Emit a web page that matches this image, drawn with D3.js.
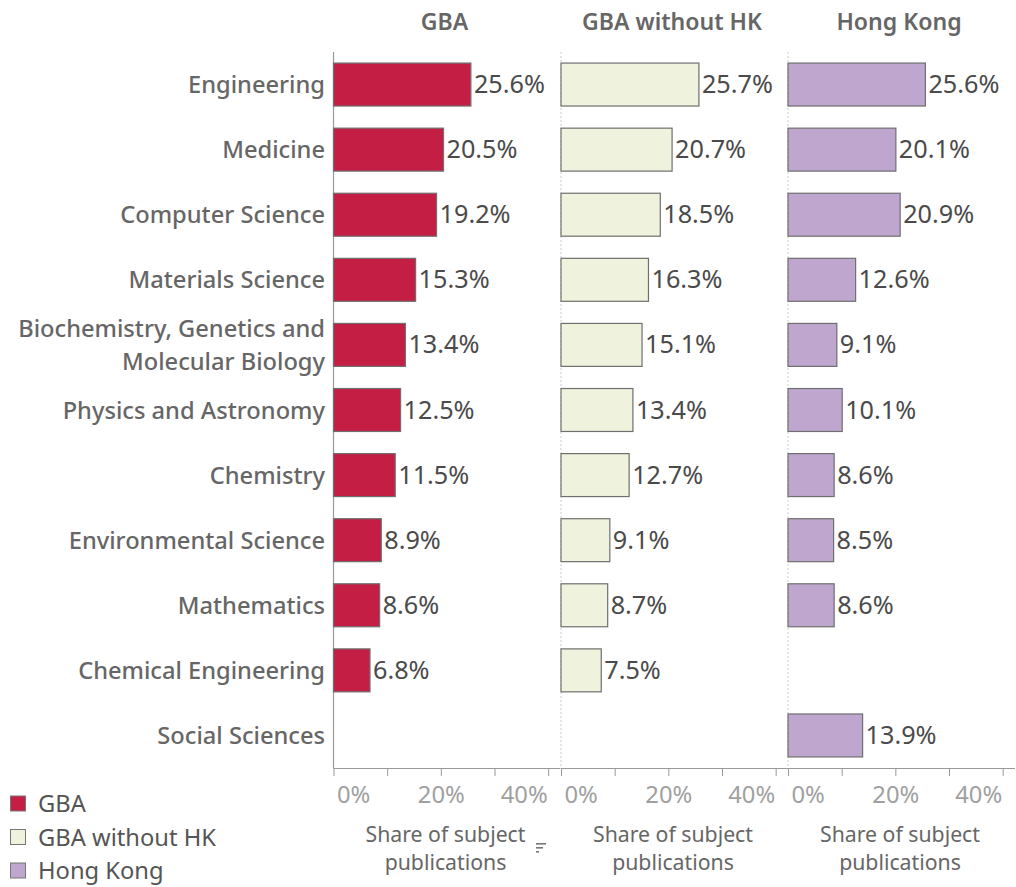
<!DOCTYPE html>
<html><head><meta charset="utf-8">
<script src="https://cdn.jsdelivr.net/npm/d3@7"></script>
<style>
body{margin:0;background:#fff;}
svg text{font-family:"Noto Sans","Open Sans",sans-serif;}
</style></head>
<body><svg id="chart" width="1016" height="887"></svg>
<script>
const categories = ["Engineering","Medicine","Computer Science","Materials Science","Biochemistry, Genetics and\nMolecular Biology","Physics and Astronomy","Chemistry","Environmental Science","Mathematics","Chemical Engineering","Social Sciences"];
const seriesNames = ["GBA","GBA without HK","Hong Kong"];
const gbaValues = [25.6,20.5,19.2,15.3,13.4,12.5,11.5,8.9,8.6,6.8,null];
const gbaNoHKValues = [25.7,20.7,18.5,16.3,15.1,13.4,12.7,9.1,8.7,7.5,null];
const hkValues = [25.6,20.1,20.9,12.6,9.1,10.1,8.6,8.5,8.6,null,13.9];
const seriesColors = ["#C41E45","#EFF2DC","#BEA6CF"];
const tickValues = [0,10,20,30,40];
const tickLabels = ["0%","","20%","","40%"];
const axisTitle = ["Share of subject","publications"];

const series = [gbaValues, gbaNoHKValues, hkValues];
const svg = d3.select("#chart");

function fit(txt, target, weight) {
  const t = svg.append("text").attr("font-size", 100).attr("font-weight", weight).text(txt);
  const w = t.node().getComputedTextLength();
  t.remove();
  return 100 * target / w;
}
const catFs = fit("Biochemistry, Genetics and", 307, 500);
const valFs = fit("25.6%", 71, 400);
const tickFs = fit("20%", 47, 400);
const headFs = fit("GBA without HK", 180, 600);
const titleFs = fit("Share of subject", 160, 400);
const legFs = fit("GBA without HK", 178, 400);

const panelX0 = [333.5, 561, 788];
const panelW = 227;
const plotTop = 52, plotBottom = 768;
const y = d3.scaleBand().domain(categories).range([plotTop, plotBottom]).paddingInner(0.34).paddingOuter(0.17);
const labelColor = "#666", valColor = "#4a4a4a";

categories.forEach(c => {
  const lines = c.split("\n");
  const cy = y(c) + y.bandwidth()/2;
  const t = svg.append("text").attr("x", 325).attr("text-anchor","end")
    .attr("font-size", catFs).attr("font-weight", 500).attr("fill", labelColor);
  lines.forEach((ln,i) => {
    t.append("tspan").attr("x",325).attr("y", cy + (i - (lines.length-1)/2)*33 + 0.36*catFs).text(ln);
  });
});

series.forEach((vals, si) => {
  const x = d3.scaleLinear().domain([0, 42.3]).range([panelX0[si], panelX0[si] + panelW]);
  const g = svg.append("g");
  svg.append("text").attr("x", x(0) + 111).attr("y", 30).attr("text-anchor","middle")
    .attr("font-size", headFs).attr("font-weight", 600).attr("fill", labelColor).text(seriesNames[si]);
  if (si === 0) {
    g.append("line").attr("x1", x(0)).attr("x2", x(0)).attr("y1", plotTop).attr("y2", plotBottom)
      .attr("stroke", "#999").attr("stroke-width", 1.2);
  } else {
    g.append("line").attr("x1", x(0)).attr("x2", x(0)).attr("y1", plotTop).attr("y2", plotBottom)
      .attr("stroke", "#ccc").attr("stroke-width", 1).attr("stroke-dasharray","2,2");
  }
  categories.forEach((c, i) => {
    const v = vals[i];
    if (v == null) return;
    g.append("rect").attr("x", x(0)).attr("y", y(c)).attr("width", x(v) - x(0)).attr("height", y.bandwidth())
      .attr("fill", seriesColors[si]).attr("stroke", "#6f6f6f").attr("stroke-width", 1.2);
    g.append("text").attr("x", x(v) + 3).attr("y", y(c) + y.bandwidth()/2 + 0.357*valFs - 0.5)
      .attr("font-size", valFs).attr("fill", valColor).text(v.toFixed(1) + "%");
  });
  const ax = d3.axisBottom(x).tickValues(tickValues).tickSize(8).tickFormat((d,i)=>tickLabels[i]);
  const axg = svg.append("g").attr("transform", `translate(0,${plotBottom})`).call(ax);
  axg.select(".domain").attr("stroke","#999").attr("d", `M${x(0)},0.5H${x(0)+panelW}`);
  axg.selectAll(".tick line").attr("stroke","#999");
  axg.selectAll(".tick text").attr("font-size", tickFs).attr("fill","#a0a0a0")
    .attr("y", 35).attr("dy", 0)
    .attr("font-family","'Noto Sans',sans-serif").attr("text-anchor", (d)=> d===0 ? "start" : (d===40 ? "end":"middle"))
    .attr("dx", d => d===0 ? 3 : (d===40 ? -1 : 0));
  axisTitle.forEach((ln, li) => {
    svg.append("text").attr("x", x(0) + 112).attr("y", 842 + li*28).attr("text-anchor","middle")
      .attr("font-size", titleFs).attr("fill","#666").text(ln);
  });
});

[10,7,3].forEach((w,i)=>{
  svg.append("rect").attr("x",536).attr("y",843+i*4).attr("width", w).attr("height",1.6).attr("fill","#777");
});

seriesNames.forEach((n,i) => {
  const ly = 804 + i*33.5;
  svg.append("rect").attr("x",10.5).attr("y",ly-8).attr("width",15).attr("height",15)
    .attr("fill",seriesColors[i]).attr("stroke","#777").attr("stroke-width",1);
  svg.append("text").attr("x",38).attr("y",ly + 0.34*legFs).attr("font-size",legFs).attr("fill","#555").text(n);
});
</script></body></html>
